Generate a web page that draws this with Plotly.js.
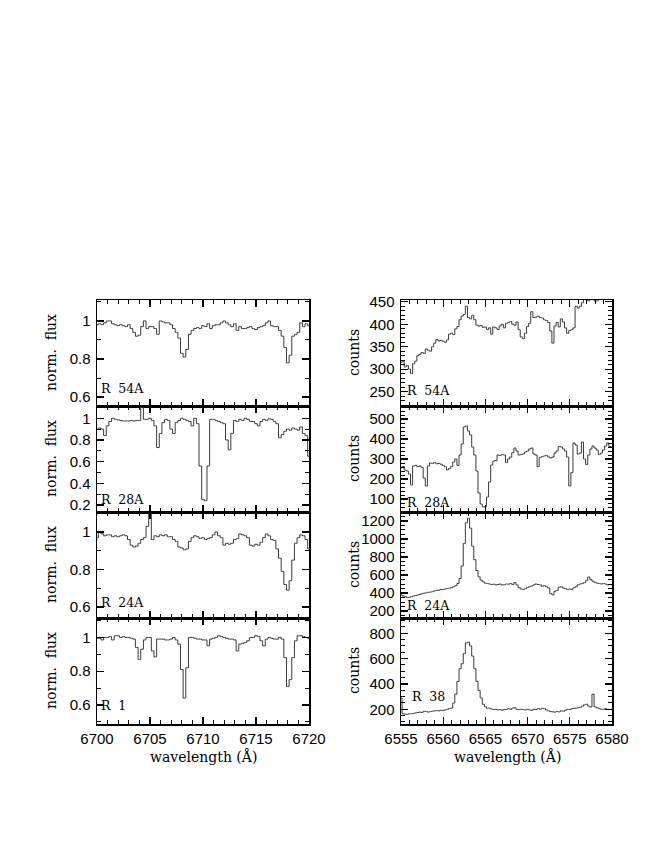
<!DOCTYPE html>
<html>
<head>
<meta charset="utf-8">
<script src="https://cdn.plot.ly/plotly-3.0.1.min.js"></script>
<style>
html,body{margin:0;padding:0;background:#fff;}
#chart{width:654px;height:846px;}
</style>
</head>
<body>
<div id="chart"></div>
<script>
// ---------------- DATA ----------------
const waveL = [6700,6700.25,6700.5,6700.75,6701,6701.25,6701.5,6701.75,6702,6702.25,6702.5,6702.75,6703,6703.25,6703.5,6703.75,6704,6704.25,6704.5,6704.75,6705,6705.25,6705.5,6705.75,6706,6706.25,6706.5,6706.75,6707,6707.25,6707.5,6707.75,6708,6708.25,6708.5,6708.75,6709,6709.25,6709.5,6709.75,6710,6710.25,6710.5,6710.75,6711,6711.25,6711.5,6711.75,6712,6712.25,6712.5,6712.75,6713,6713.25,6713.5,6713.75,6714,6714.25,6714.5,6714.75,6715,6715.25,6715.5,6715.75,6716,6716.25,6716.5,6716.75,6717,6717.25,6717.5,6717.75,6718,6718.25,6718.5,6718.75,6719,6719.25,6719.5,6719.75,6720];

const waveR = [6555,6555.25,6555.5,6555.75,6556,6556.25,6556.5,6556.75,6557,6557.25,6557.5,6557.75,6558,6558.25,6558.5,6558.75,6559,6559.25,6559.5,6559.75,6560,6560.25,6560.5,6560.75,6561,6561.25,6561.5,6561.75,6562,6562.25,6562.5,6562.75,6563,6563.25,6563.5,6563.75,6564,6564.25,6564.5,6564.75,6565,6565.25,6565.5,6565.75,6566,6566.25,6566.5,6566.75,6567,6567.25,6567.5,6567.75,6568,6568.25,6568.5,6568.75,6569,6569.25,6569.5,6569.75,6570,6570.25,6570.5,6570.75,6571,6571.25,6571.5,6571.75,6572,6572.25,6572.5,6572.75,6573,6573.25,6573.5,6573.75,6574,6574.25,6574.5,6574.75,6575,6575.25,6575.5,6575.75,6576,6576.25,6576.5,6576.75,6577,6577.25,6577.5,6577.75,6578,6578.25,6578.5,6578.75,6579,6579.25,6579.5,6579.75,6580];

// Li 6708 region, normalized flux
const fluxR54A = [0.98,0.985,0.98,0.99,1.0,1.0,0.985,0.98,0.975,0.98,0.975,0.97,0.98,0.96,0.94,0.92,0.925,0.97,1.0,0.96,0.97,0.97,0.96,0.93,1.0,0.995,0.99,0.99,0.98,0.96,0.94,0.91,0.83,0.81,0.85,0.93,0.95,0.96,0.965,0.96,0.975,0.97,0.985,0.96,0.975,0.98,0.98,0.99,1.0,0.99,0.98,0.97,0.985,0.95,0.97,0.96,0.96,0.965,0.97,0.96,0.955,0.965,0.97,0.975,0.99,1.0,0.975,0.97,0.97,0.95,0.92,0.86,0.78,0.82,0.92,0.93,0.94,0.99,0.97,0.985,0.975];

const fluxR28A = [0.90,0.91,0.90,0.84,0.93,0.97,1.0,0.99,0.985,0.98,0.975,0.975,0.975,0.98,0.975,0.98,0.98,1.10,0.99,0.99,1.0,0.98,0.93,0.73,0.86,0.96,0.99,0.98,0.90,0.86,0.96,0.98,1.0,0.99,0.98,0.97,0.93,1.0,0.95,0.56,0.25,0.24,0.56,0.99,0.99,0.98,0.97,0.96,0.95,0.80,0.71,0.86,0.98,0.97,0.99,0.98,1.0,0.99,0.97,0.97,0.95,0.93,0.97,0.99,0.98,0.995,0.99,0.97,0.95,0.82,0.85,0.88,0.90,0.89,0.91,0.90,0.89,0.92,0.86,0.84,0.65];

const fluxR24A = [0.97,1.0,0.99,0.98,0.985,0.985,0.975,0.98,0.975,0.98,0.985,0.98,0.96,0.93,0.92,0.925,0.94,0.96,0.97,1.03,1.1,0.96,0.98,0.975,0.985,0.98,0.985,0.975,0.975,0.96,0.95,0.92,0.915,0.905,0.91,0.95,0.97,0.98,0.975,0.965,0.97,0.96,0.965,0.97,0.985,1.0,0.98,0.97,0.93,0.94,0.935,0.94,0.96,0.965,0.99,0.985,0.98,0.97,0.93,0.925,0.935,0.93,0.945,0.97,0.99,0.98,0.96,0.955,0.91,0.86,0.79,0.72,0.69,0.74,0.85,0.94,0.97,0.985,0.98,0.96,0.91];

const fluxR1 = [0.995,0.995,0.985,1.0,1.0,1.005,0.985,1.01,1.01,1.0,1.005,1.0,1.0,0.995,0.99,0.94,0.87,0.93,0.985,1.0,1.0,0.92,0.885,0.99,0.99,0.99,0.985,0.985,0.99,1.0,0.985,0.96,0.81,0.64,0.82,1.0,1.0,0.995,0.99,0.99,0.985,0.985,0.95,0.99,0.995,1.0,1.01,1.005,1.0,0.995,0.99,0.99,0.985,0.92,0.96,0.965,0.97,0.98,1.0,1.0,1.01,1.005,0.98,0.95,0.99,1.0,0.995,0.99,0.99,1.0,0.99,0.88,0.71,0.75,0.88,0.98,1.01,1.01,1.005,1.0,0.995];

// H-alpha region, counts
const countsR54A = [315,318,305,308,300,290,312,318,330,333,337,335,345,342,340,350,358,366,363,364,362,360,365,378,380,377,390,395,410,418,422,440,415,412,420,410,398,396,397,393,394,388,392,378,394,392,388,396,400,392,402,404,406,400,398,405,388,372,368,380,395,402,428,415,416,418,415,414,410,408,404,385,358,396,404,394,412,405,392,380,386,388,392,440,436,440,448,455,460,452,455,455,452,452,455,460,462,460,462,455,460];

const countsR28A = [255,262,245,240,225,170,265,268,262,265,258,205,165,265,280,278,282,276,278,274,268,262,245,252,262,285,300,268,320,375,460,465,440,420,360,320,240,130,75,60,62,110,185,270,290,292,320,318,322,320,282,300,310,332,355,340,320,322,325,335,340,350,355,325,320,262,308,312,315,318,310,305,310,330,340,362,360,350,340,310,165,232,380,370,325,330,385,300,272,320,350,365,355,345,322,330,345,365,380,362,360];

const countsR24A = [380,370,360,350,352,360,368,372,378,385,392,398,402,408,410,415,425,430,432,440,438,445,450,455,458,470,482,505,560,700,950,1180,1230,1120,920,770,650,580,545,525,510,505,500,495,498,490,495,500,490,492,500,498,505,495,515,490,460,445,440,448,462,470,478,490,500,495,490,475,482,470,455,395,380,420,430,465,470,455,448,440,445,440,458,470,490,500,505,515,540,578,550,530,518,510,505,500,505,500,490,495,490];

const countsR38 = [290,165,162,160,165,165,168,172,175,178,175,185,182,178,182,185,188,190,188,192,190,195,200,205,210,250,320,420,520,560,640,725,730,700,620,520,420,350,290,240,220,208,210,202,198,200,195,198,192,200,198,205,200,210,212,200,198,200,198,195,200,195,192,200,198,205,200,208,205,195,188,182,180,178,182,180,188,185,192,200,198,205,208,210,212,215,225,235,240,225,218,320,220,212,205,200,200,205,200,198,200];

const starLabels = ['R\u00a0\u00a054A','R\u00a0\u00a028A','R\u00a0\u00a024A','R\u00a0\u00a01','R\u00a0\u00a038'];
const leftSeries  = [fluxR54A, fluxR28A, fluxR24A, fluxR1];
const rightSeries = [countsR54A, countsR28A, countsR24A, countsR38];
const leftNames  = [starLabels[0], starLabels[1], starLabels[2], starLabels[3]];
const rightNames = [starLabels[0], starLabels[1], starLabels[2], starLabels[4]];
const yTitleLeft = 'norm.\u00a0\u00a0flux';
const yTitleRight = 'counts';
const xTitle = 'wavelength\u00a0(\u00c5)';

// ---------------- LAYOUT ----------------
const W = 654, H = 846;
const px = v => v / W;
const py = v => 1 - v / H;
const rowTop = [300, 406, 512, 618];
const rowH = 106;
const colL = [97, 309], colR = [401, 612];

const leftRanges  = [[0.553,1.11],[0.136,1.113],[0.541,1.107],[0.487,1.115]];
const leftMinor   = [0.1,0.1,0.1,0.1];
const rightRanges = [[218,454],[35,565],[123,1299],[84,921]];
const rightMajor  = [50,100,200,200];
const rightMinor  = [10,20,50,50];
const labelY_L = [388, 500, 602, 705];
const labelY_R = [390, 502, 605, 696];
const labelX_L = [99, 99, 99, 99];
const labelX_R = [405, 405, 405, 410];

const tickFont = {family:'Liberation Sans, Arial, sans-serif', size:15, color:'#000'};
const titleFont = {family:'DejaVu Serif, serif', size:14, color:'#000'};
const labFont = {family:'DejaVu Serif, serif', size:12.5, color:'#000'};

const traces = [];
const layout = {
  width: W, height: H,
  margin: {l:0, r:0, t:0, b:0},
  paper_bgcolor:'#fff', plot_bgcolor:'#fff',
  showlegend:false,
  annotations: []
};

function axisBase(){
  return {
    showline:true, linecolor:'#000', linewidth:1.5, mirror:'ticks',
    ticks:'inside', ticklen:7, tickwidth:1.2, tickcolor:'#000',
    showgrid:false, zeroline:false, tickfont:tickFont, fixedrange:true
  };
}

let k = 0;
for (let col = 0; col < 2; col++) {
  for (let r = 0; r < 4; r++) {
    k++;
    const xs = col === 0 ? waveL : waveR;
    const ys = col === 0 ? leftSeries[r] : rightSeries[r];
    const xa = 'x' + (k === 1 ? '' : k), ya = 'y' + (k === 1 ? '' : k);
    traces.push({
      x: xs, y: ys, type:'scatter', mode:'lines', xaxis: xa, yaxis: ya,
      line: {shape:'hvh', color:'#3a3a3a', width:1}, hoverinfo:'skip'
    });
    const xd = col === 0 ? colL : colR;
    const xAx = axisBase();
    Object.assign(xAx, {
      domain:[px(xd[0]), px(xd[1])], anchor: ya,
      range: col === 0 ? [6700,6720] : [6555,6580],
      tick0: col === 0 ? 6700 : 6555, dtick:5,
      minor: {dtick:1, ticklen:4, ticks:'inside', tickcolor:'#000', tickwidth:1},
      showticklabels: r === 3
    });
    const yAx = axisBase();
    Object.assign(yAx, {
      domain:[py(rowTop[r] + rowH), py(rowTop[r])], anchor: xa,
      range: col === 0 ? leftRanges[r] : rightRanges[r],
      dtick: col === 0 ? 0.2 : rightMajor[r],
      tick0: 0,
      minor: {dtick: col === 0 ? leftMinor[r] : rightMinor[r], ticklen:4, ticks:'inside', tickcolor:'#000', tickwidth:1},
      ticklabelstandoff: 2
    });
    layout['xaxis' + (k === 1 ? '' : k)] = xAx;
    layout['yaxis' + (k === 1 ? '' : k)] = yAx;

    // star label
    layout.annotations.push({
      xref:'paper', yref:'paper', showarrow:false, xanchor:'left', yanchor:'middle',
      x: px(col === 0 ? labelX_L[r] : labelX_R[r]), y: py(col === 0 ? labelY_L[r] : labelY_R[r]),
      text: col === 0 ? leftNames[r] : rightNames[r], font: labFont
    });
    // y title
    layout.annotations.push({
      xref:'paper', yref:'paper', showarrow:false, xanchor:'center', yanchor:'middle',
      x: px(col === 0 ? 51 : 354), y: py(rowTop[r] + rowH/2), textangle:-90,
      text: col === 0 ? yTitleLeft : yTitleRight, font: titleFont
    });
  }
  layout.annotations.push({
    xref:'paper', yref:'paper', showarrow:false, xanchor:'center', yanchor:'middle',
    x: px(col === 0 ? 203 : 507), y: py(756), text: xTitle, font: titleFont
  });
}

Plotly.newPlot('chart', traces, layout, {displayModeBar:false, staticPlot:true});
</script>
</body>
</html>
